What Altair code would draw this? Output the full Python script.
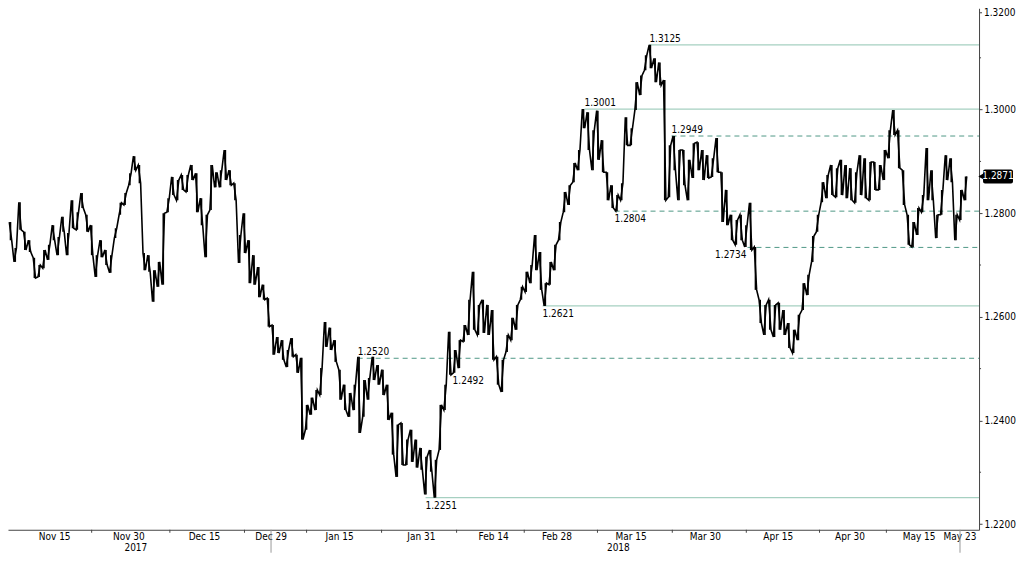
import altair as alt
import pandas as pd

FONT = "DejaVu Sans Condensed"

# ---- price series: daily high / low ----
START_DAY = "2017-11-03"
HIGH = [
    1.2839, 1.2781, 1.2783, 1.2733, 1.2821, 1.2764, 1.2748, 1.2714, 1.2700, 1.2729,
    1.2739, 1.2777, 1.2754, 1.2793, 1.2762, 1.2825, 1.2802, 1.2839, 1.2797, 1.2777,
    1.2719, 1.2748, 1.2729, 1.2719, 1.2771, 1.2820, 1.2839, 1.2877, 1.2910, 1.2893,
    1.2723, 1.2719, 1.2690, 1.2706, 1.2800, 1.2829, 1.2870, 1.2864, 1.2874, 1.2874,
    1.2893, 1.2877, 1.2829, 1.2797, 1.2893, 1.2879, 1.2883, 1.2922, 1.2883, 1.2858,
    1.2758, 1.2800, 1.2748, 1.2719, 1.2696, 1.2662, 1.2636, 1.2584, 1.2561, 1.2555,
    1.2536, 1.2559, 1.2527, 1.2521, 1.2430, 1.2444, 1.2459, 1.2501, 1.2590, 1.2579,
    1.2555, 1.2498, 1.2469, 1.2453, 1.2469, 1.2523, 1.2478, 1.2482, 1.2523, 1.2507,
    1.2498, 1.2469, 1.2415, 1.2392, 1.2395, 1.2363, 1.2382, 1.2363, 1.2347, 1.2330,
    1.2343, 1.2324, 1.2430, 1.2469, 1.2571, 1.2536, 1.2555, 1.2584, 1.2633, 1.2687,
    1.2623, 1.2633, 1.2623, 1.2613, 1.2523, 1.2517, 1.2565, 1.2598, 1.2623, 1.2658,
    1.2687, 1.2700, 1.2758, 1.2725, 1.2665, 1.2706, 1.2739, 1.2783, 1.2841, 1.2854,
    1.2897, 1.2922, 1.3001, 1.2995, 1.2960, 1.2998, 1.2941, 1.2879, 1.2854, 1.2835,
    1.2858, 1.2985, 1.2964, 1.3053, 1.3066, 1.3105, 1.3125, 1.3099, 1.3091, 1.3057,
    1.2931, 1.2949, 1.2922, 1.2922, 1.2903, 1.2935, 1.2937, 1.2922, 1.2912, 1.2906,
    1.2945, 1.2879, 1.2845, 1.2797, 1.2787, 1.2797, 1.2777, 1.2820, 1.2735, 1.2633,
    1.2623, 1.2633, 1.2623, 1.2627, 1.2613, 1.2588, 1.2575, 1.2604, 1.2665, 1.2681,
    1.2756, 1.2797, 1.2860, 1.2874, 1.2893, 1.2887, 1.2903, 1.2893, 1.2887, 1.2879,
    1.2912, 1.2906, 1.2899, 1.2899, 1.2893, 1.2922, 1.2960, 1.2999, 1.2960, 1.2883,
    1.2797, 1.2783, 1.2810, 1.2835, 1.2926, 1.2883, 1.2797, 1.2845, 1.2912, 1.2906,
    1.2797, 1.2845, 1.2871,
]
LOW = [
    1.2810, 1.2719, 1.2748, 1.2706, 1.2768, 1.2729, 1.2725, 1.2675, 1.2677, 1.2694,
    1.2710, 1.2748, 1.2719, 1.2764, 1.2719, 1.2771, 1.2768, 1.2810, 1.2764, 1.2719,
    1.2677, 1.2715, 1.2700, 1.2685, 1.2752, 1.2797, 1.2816, 1.2854, 1.2883, 1.2858,
    1.2690, 1.2687, 1.2629, 1.2658, 1.2662, 1.2802, 1.2835, 1.2825, 1.2845, 1.2841,
    1.2864, 1.2802, 1.2777, 1.2715, 1.2806, 1.2850, 1.2850, 1.2864, 1.2854, 1.2825,
    1.2704, 1.2723, 1.2665, 1.2662, 1.2638, 1.2633, 1.2581, 1.2527, 1.2530, 1.2517,
    1.2503, 1.2523, 1.2492, 1.2363, 1.2382, 1.2411, 1.2420, 1.2449, 1.2542, 1.2536,
    1.2513, 1.2440, 1.2420, 1.2407, 1.2420, 1.2376, 1.2407, 1.2440, 1.2478, 1.2469,
    1.2449, 1.2401, 1.2334, 1.2291, 1.2314, 1.2314, 1.2320, 1.2309, 1.2305, 1.2257,
    1.2301, 1.2251, 1.2343, 1.2420, 1.2488, 1.2492, 1.2501, 1.2552, 1.2565, 1.2575,
    1.2565, 1.2569, 1.2565, 1.2517, 1.2469, 1.2455, 1.2532, 1.2555, 1.2575, 1.2633,
    1.2648, 1.2665, 1.2690, 1.2652, 1.2621, 1.2662, 1.2690, 1.2748, 1.2802, 1.2816,
    1.2860, 1.2883, 1.2964, 1.2922, 1.2883, 1.2903, 1.2879, 1.2825, 1.2810, 1.2804,
    1.2825, 1.2931, 1.2931, 1.2999, 1.3028, 1.3076, 1.3080, 1.3053, 1.3047, 1.2825,
    1.2831, 1.2883, 1.2825, 1.2854, 1.2825, 1.2868, 1.2883, 1.2864, 1.2868, 1.2870,
    1.2879, 1.2783, 1.2777, 1.2748, 1.2739, 1.2748, 1.2735, 1.2729, 1.2652, 1.2588,
    1.2565, 1.2575, 1.2561, 1.2575, 1.2565, 1.2540, 1.2530, 1.2555, 1.2613, 1.2642,
    1.2706, 1.2764, 1.2821, 1.2829, 1.2835, 1.2831, 1.2835, 1.2829, 1.2825, 1.2820,
    1.2835, 1.2829, 1.2825, 1.2845, 1.2845, 1.2864, 1.2906, 1.2951, 1.2887, 1.2816,
    1.2739, 1.2735, 1.2758, 1.2802, 1.2825, 1.2825, 1.2752, 1.2797, 1.2864, 1.2860,
    1.2748, 1.2787, 1.2825,
]

# ---- annotated levels ----
LEVELS = [1.3125, 1.3001, 1.2949, 1.2804, 1.2734, 1.2621, 1.2520, 1.2251]
LEVEL_FROM = ["2018-03-18T19:00:00", "2018-03-05T05:00:00", "2018-03-23T10:00:00",
              "2018-03-11T12:00:00", "2018-04-08T08:00:00", "2018-02-24T10:00:00",
              "2018-01-16T17:00:00", "2018-01-30T22:00:00"]
LEVEL_STYLE = ["solid", "solid", "dashed", "dashed", "dashed", "solid", "dashed", "solid"]
LEVEL_SIDE = ["above", "above", "above", "below", "belowleft", "below", "above", "below"]
NOTE_VALUES = [1.2492]
NOTE_AT = ["2018-02-05T14:00:00"]

X_LABEL_TEXT = ["Nov 15", "Nov 30", "Dec 15", "Dec 29", "Jan 15", "Jan 31", "Feb 14",
                "Feb 28", "Mar 15", "Mar 30", "Apr 15", "Apr 30", "May 15", "May 23"]
X_LABEL_AT = ["2017-11-14T06:00:00", "2017-11-29T19:00:00", "2017-12-15T15:00:00",
              "2017-12-29T13:30:00", "2018-01-12T22:00:00", "2018-01-30T01:00:00",
              "2018-02-14T04:00:00", "2018-02-27T10:30:00", "2018-03-14T23:00:00",
              "2018-03-30T12:00:00", "2018-04-14T18:30:00", "2018-04-29T19:00:00",
              "2018-05-14T06:30:00", "2018-05-22T20:00:00"]
X_TICKS = ["2017-11-22T00:00:00", "2017-12-08T09:00:00", "2017-12-24T00:00:00",
           "2018-01-06T00:00:00", "2018-01-21T17:00:00", "2018-02-06T10:00:00",
           "2018-02-20T14:00:00", "2018-03-07T22:00:00", "2018-03-23T14:00:00",
           "2018-04-08T02:00:00", "2018-04-23T10:00:00", "2018-05-07T10:00:00"]
X_LONG_TICKS = ["2017-12-29T13:30:00", "2018-05-22T20:00:00"]
YEARS = ["2017", "2018"]
YEAR_AT = ["2017-12-01T06:00:00", "2018-03-12T07:00:00"]
Y_TICKS = [1.22, 1.24, 1.26, 1.28, 1.30]
Y_TOP_TICK = ["1.3200"]
Y_MINOR = [1.23, 1.25, 1.27, 1.29, 1.31]
LAST_PRICE = 1.2871

X_DOMAIN = ["2017-11-04T11:30:00", "2018-05-26T19:40:00"]
Y_DOMAIN = [1.21890, 1.31956]

W, H = 972, 522
SOLID = "#a6d0c1"
DASHED = "#4f9886"
AXIS = "#444444"


def dt(s):
    ts = pd.Timestamp(s)
    return alt.DateTime(year=ts.year, month=ts.month, date=ts.day,
                        hours=ts.hour, minutes=ts.minute)


def iso(ts):
    return ts.strftime("%Y-%m-%dT%H:%M:%S")


# zig-zag through each day's high and low (only what lies inside the visible window)
days = pd.date_range(START_DAY, periods=len(HIGH), freq="D")
rows, bars = [], []
for i, d in enumerate(days):
    mid = (HIGH[i] + LOW[i]) / 2
    nxt = (HIGH[i + 1] + LOW[i + 1]) / 2 if i + 1 < len(HIGH) else mid + 1
    first, second = (LOW[i], HIGH[i]) if nxt >= mid else (HIGH[i], LOW[i])
    rows.append({"t": iso(d - pd.Timedelta(hours=6)), "p": first})
    rows.append({"t": iso(d + pd.Timedelta(hours=6)), "p": second})
    bars.append({"t": iso(d), "lo": LOW[i], "hi": HIGH[i]})
price_df = pd.DataFrame(rows)
price_df = price_df[price_df["t"] >= X_DOMAIN[0]]
bars_df = pd.DataFrame(bars)
bars_df = bars_df[bars_df["t"] >= X_DOMAIN[0]]

lv = pd.DataFrame({"level": LEVELS, "start": LEVEL_FROM, "style": LEVEL_STYLE,
                   "side": LEVEL_SIDE})
lv["end"] = X_DOMAIN[1]
lv["label"] = lv["level"].map(lambda v: f"{v:.4f}")
notes = pd.DataFrame({"level": NOTE_VALUES, "start": NOTE_AT, "side": "below"})
notes["label"] = notes["level"].map(lambda v: f"{v:.4f}")
labels_df = pd.concat([lv[["level", "start", "side", "label"]], notes], ignore_index=True)

x_scale = alt.Scale(domain=[dt(X_DOMAIN[0]), dt(X_DOMAIN[1])])
y_scale = alt.Scale(domain=Y_DOMAIN, nice=False, zero=False)

x_axis = alt.Axis(labels=False, ticks=False, domainColor=AXIS, grid=False, title=None)
y_axis = alt.Axis(orient="right", values=Y_TICKS, format=".4f", tickSize=3,
                  tickColor=AXIS, labelPadding=2, labelFontSize=10, labelFont=FONT,
                  labelColor="#000", domainColor=AXIS, grid=False, title=None,
                  labelOverlap=False, labelFlush=False)

lines_solid = alt.Chart(lv).transform_filter(alt.datum.style == "solid").mark_rule(
    color=SOLID, strokeWidth=1.2
).encode(x=alt.X("start:T", title=None), x2="end:T", y=alt.Y("level:Q", title=None))

lines_dashed = alt.Chart(lv).transform_filter(alt.datum.style == "dashed").mark_rule(
    color=DASHED, strokeWidth=1, strokeDash=[5, 4]
).encode(x=alt.X("start:T", title=None), x2="end:T", y=alt.Y("level:Q", title=None))

price = alt.Chart(price_df).mark_line(color="#000", strokeWidth=1.6, clip=True).encode(
    x=alt.X("t:T", scale=x_scale, axis=x_axis),
    y=alt.Y("p:Q", scale=y_scale, axis=y_axis),
)
ranges = alt.Chart(bars_df).mark_rule(color="#000", strokeWidth=1.6, clip=True).encode(
    x=alt.X("t:T", title=None), y=alt.Y("lo:Q", title=None), y2="hi:Q")


def label_layer(side, align, dx, dy):
    return alt.Chart(labels_df).transform_filter(alt.datum.side == side).mark_text(
        font=FONT, fontSize=10, color="#000", align=align, baseline="alphabetic",
        dx=dx, dy=dy
    ).encode(x=alt.X("start:T", title=None), y=alt.Y("level:Q", title=None), text="label:N")


lab_above = label_layer("above", "left", 0, -3)
lab_below = label_layer("below", "left", 0, 11)
lab_below_left = label_layer("belowleft", "right", -1, 11)

x_labels = alt.Chart(pd.DataFrame({"t": X_LABEL_AT, "txt": X_LABEL_TEXT})).mark_text(
    font=FONT, fontSize=10, color="#000", align="center", baseline="top"
).encode(x=alt.X("t:T", title=None), y=alt.value(H + 2), text="txt:N")
ticks = alt.Chart(pd.DataFrame({"t": X_TICKS})).mark_rule(color=AXIS).encode(
    x=alt.X("t:T", title=None), y=alt.value(H), y2=alt.value(H + 3))
long_ticks = alt.Chart(pd.DataFrame({"t": X_LONG_TICKS})).mark_rule(color="#999999").encode(
    x=alt.X("t:T", title=None), y=alt.value(H), y2=alt.value(H + 23))
years = alt.Chart(pd.DataFrame({"t": YEAR_AT, "year": YEARS})).mark_text(
    font=FONT, fontSize=10, color="#000", align="center", baseline="alphabetic"
).encode(x=alt.X("t:T", title=None), y=alt.value(H + 21), text="year:N")

minor_y = alt.Chart(pd.DataFrame({"v": Y_MINOR})).mark_rule(color=AXIS).encode(
    y=alt.Y("v:Q", title=None), x=alt.value(W), x2=alt.value(W + 2))

# top label of the price axis sits at the very edge of the plot
top_label = alt.Chart(pd.DataFrame({"txt": Y_TOP_TICK})).mark_text(
    font=FONT, fontSize=10, color="#000", align="left", baseline="top"
).encode(x=alt.value(W + 5), y=alt.value(0), text="txt:N")
top_tick = alt.Chart(pd.DataFrame({"txt": Y_TOP_TICK})).mark_rule(color=AXIS).encode(
    x=alt.value(W), x2=alt.value(W + 3), y=alt.value(4.5))

tag_df = pd.DataFrame({"p": [LAST_PRICE]})
tag_base = alt.Chart(tag_df).transform_calculate(
    top="datum.p + 0.00135", bot="datum.p - 0.00135",
    txt="format(datum.p, '.4f')")
tag_box = tag_base.mark_rect(color="#000", cornerRadius=2).encode(
    x=alt.value(W + 4), x2=alt.value(W + 34), y=alt.Y("top:Q", title=None), y2="bot:Q")
tag_tip = tag_base.mark_point(shape="triangle-left", filled=True, color="#000",
                              size=40, opacity=1).encode(
    x=alt.value(W + 2), y=alt.Y("p:Q", title=None))
tag_text = tag_base.mark_text(font=FONT, fontSize=10, color="#ffffff", align="center",
                              baseline="middle").encode(
    x=alt.value(W + 19), y=alt.Y("p:Q", title=None), text="txt:N")

chart = alt.layer(
    price.mark_line(opacity=0),  # carries axes/scales
    lines_solid, lines_dashed, ranges, price,
    lab_above, lab_below, lab_below_left,
    x_labels, ticks, long_ticks, years, minor_y, top_label, top_tick,
    tag_box, tag_tip, tag_text,
).properties(
    width=W, height=H, padding=0,
).configure_view(stroke=None)

chart.save("out.html", embed_options={"renderer": "svg", "actions": False})
